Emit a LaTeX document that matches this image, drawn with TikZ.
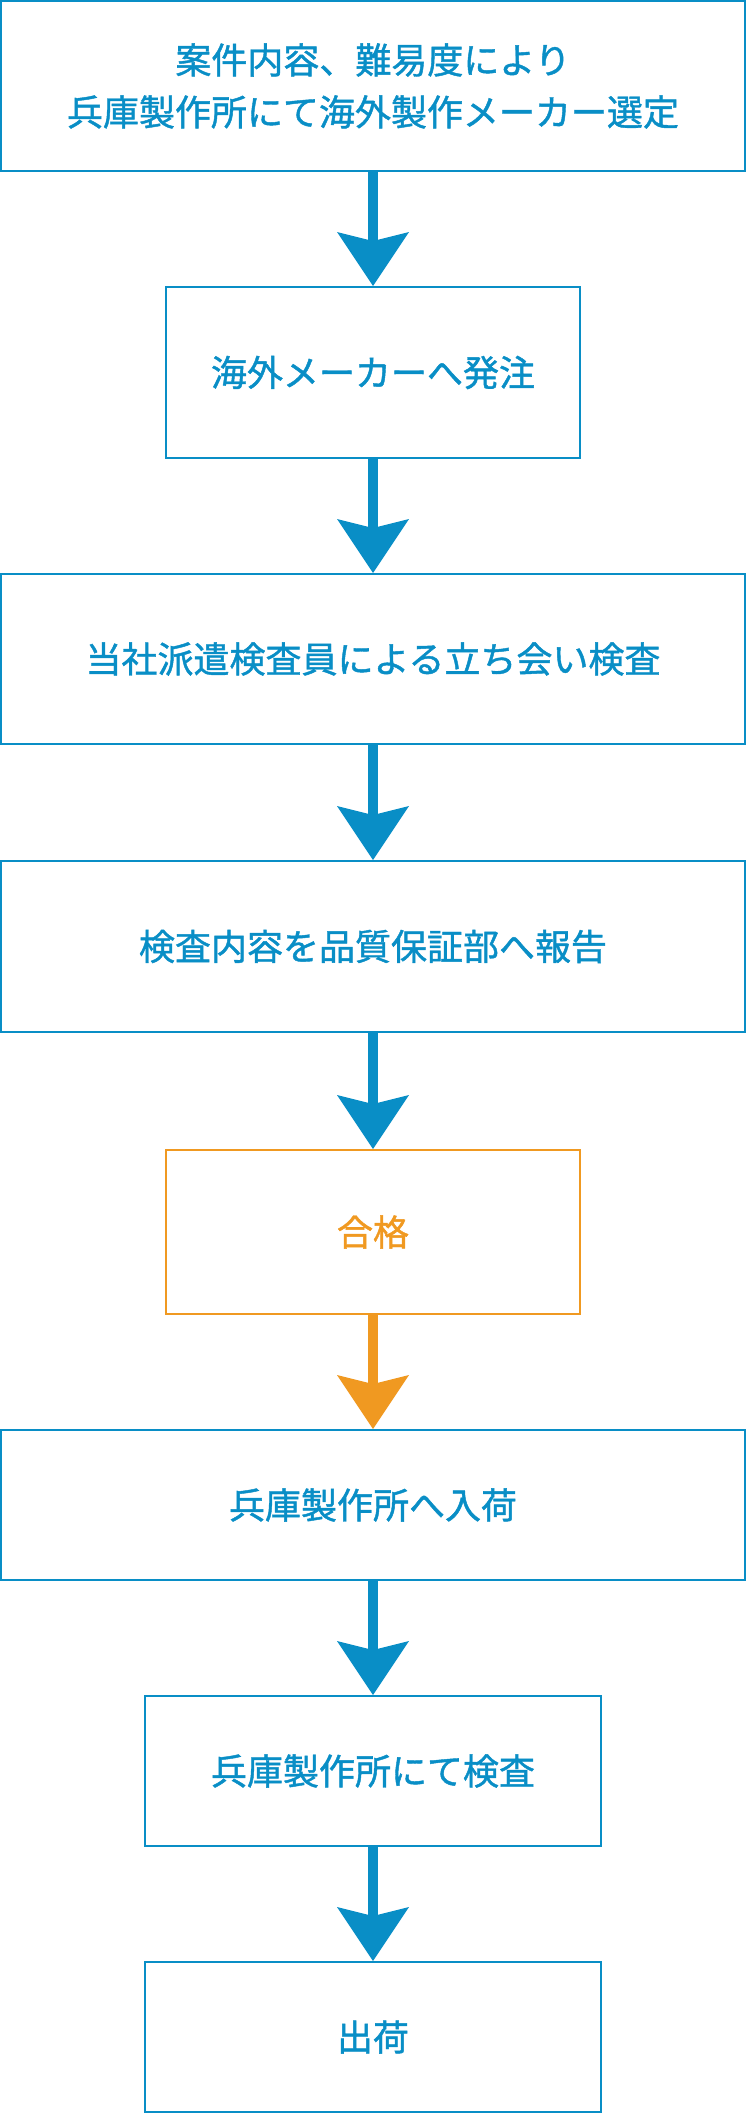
\documentclass[tikz,border=0pt]{standalone}
\usepackage{fontspec}
\setmainfont{Noto Sans CJK JP}[BoldFont={Noto Sans CJK JP}, BoldFeatures={FakeBold=1.2}]
\usetikzlibrary{arrows.meta}
\definecolor{fblue}{RGB}{9,142,198}
\definecolor{forange}{RGB}{240,153,33}
\tikzset{
  box/.style={draw=fblue, text=fblue, line width=2pt, rectangle, inner sep=0pt,
    align=center, font=\fontsize{36}{52}\selectfont\bfseries},
  okbox/.style={box, draw=forange, text=forange},
  flow/.style={draw=fblue, line width=10pt,
    -{Stealth[length=54pt,width=72pt,inset=9pt,line width=0pt]}},
  okflow/.style={flow, draw=forange, fill=forange},
}
\begin{document}
\begin{tikzpicture}[x=1pt,y=-1pt]
\useasboundingbox (0,0) rectangle (746,2114);
\node[box, minimum width=744pt, minimum height=170pt] (b1) at (373,86)
  {案件内容、難易度により\\兵庫製作所にて海外製作メーカー選定};
\node[box, minimum width=414pt, minimum height=171pt] (b2) at (373,372.5)
  {海外メーカーへ発注};
\node[box, minimum width=744pt, minimum height=170pt] (b3) at (373,659)
  {当社派遣検査員による立ち会い検査};
\node[box, minimum width=744pt, minimum height=171pt] (b4) at (373,946.5)
  {検査内容を品質保証部へ報告};
\node[okbox, minimum width=414pt, minimum height=164pt] (b5) at (373,1232)
  {合格};
\node[box, minimum width=744pt, minimum height=150pt] (b6) at (373,1505)
  {兵庫製作所へ入荷};
\node[box, minimum width=456pt, minimum height=150pt] (b7) at (373,1771)
  {兵庫製作所にて検査};
\node[box, minimum width=456pt, minimum height=150pt] (b8) at (373,2037)
  {出荷};
\draw[flow] (b1.south) -- (b2.north);
\draw[flow] (b2.south) -- (b3.north);
\draw[flow] (b3.south) -- (b4.north);
\draw[flow] (b4.south) -- (b5.north);
\draw[okflow] (b5.south) -- (b6.north);
\draw[flow] (b6.south) -- (b7.north);
\draw[flow] (b7.south) -- (b8.north);
\end{tikzpicture}
\end{document}
